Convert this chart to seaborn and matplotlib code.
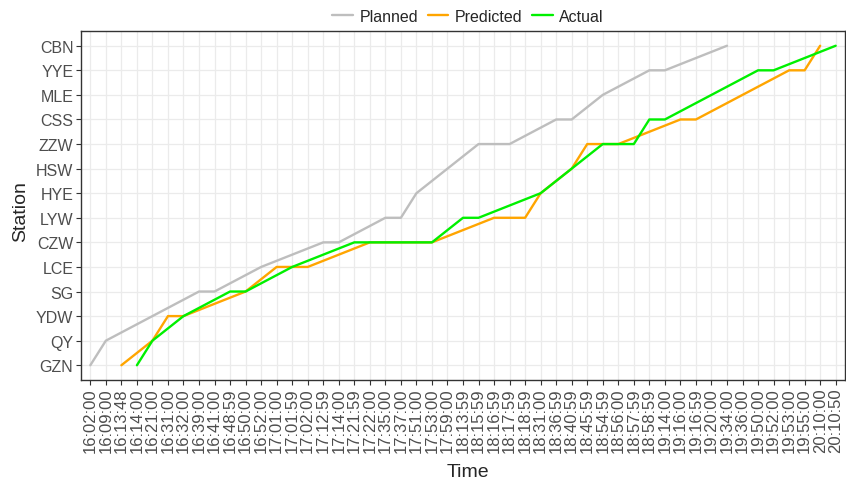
import matplotlib
matplotlib.use("Agg")
import matplotlib.pyplot as plt
import seaborn as sns
import pandas as pd

# Station order along the line (bottom to top)
stations = ["GZN", "QY", "YDW", "SG", "LCE", "CZW", "LYW", "HYE",
            "HSW", "ZZW", "CSS", "MLE", "YYE", "CBN"]

# All recorded timestamps, used as ordered categories on the time axis
time_labels = [
    "16:02:00", "16:09:00", "16:13:48", "16:14:00", "16:21:00", "16:31:00",
    "16:32:00", "16:39:00", "16:41:00", "16:48:59", "16:50:00", "16:52:00",
    "17:01:00", "17:01:59", "17:02:00", "17:12:59", "17:14:00", "17:21:59",
    "17:22:00", "17:35:00", "17:37:00", "17:51:00", "17:53:00", "17:59:00",
    "18:13:59", "18:15:59", "18:16:59", "18:17:59", "18:18:59", "18:31:00",
    "18:36:59", "18:40:59", "18:45:59", "18:54:59", "18:56:00", "18:57:59",
    "18:58:59", "19:14:00", "19:16:00", "19:16:59", "19:20:00", "19:34:00",
    "19:36:00", "19:50:00", "19:52:00", "19:53:00", "19:55:00", "20:10:00",
    "20:10:50",
]

planned_time = ["16:02:00", "16:09:00", "16:21:00", "16:39:00", "16:41:00",
                "16:52:00", "17:12:59", "17:14:00", "17:35:00", "17:37:00",
                "17:51:00", "17:59:00", "18:15:59", "18:17:59", "18:36:59",
                "18:40:59", "18:54:59", "18:58:59", "19:14:00", "19:34:00"]
planned_station = ["GZN", "QY", "YDW", "SG", "SG", "LCE", "CZW", "CZW",
                   "LYW", "LYW", "HYE", "HSW", "ZZW", "ZZW", "CSS", "CSS",
                   "MLE", "YYE", "YYE", "CBN"]

predicted_time = ["16:13:48", "16:21:00", "16:31:00", "16:32:00", "16:50:00",
                  "17:01:00", "17:02:00", "17:22:00", "17:53:00", "18:16:59",
                  "18:18:59", "18:31:00", "18:40:59", "18:45:59", "18:56:00",
                  "19:16:00", "19:16:59", "19:36:00", "19:53:00", "19:55:00",
                  "20:10:00"]
predicted_station = ["GZN", "QY", "YDW", "YDW", "SG", "LCE", "LCE", "CZW",
                     "CZW", "LYW", "LYW", "HYE", "HSW", "ZZW", "ZZW", "CSS",
                     "CSS", "MLE", "YYE", "YYE", "CBN"]

actual_time = ["16:14:00", "16:21:00", "16:32:00", "16:48:59", "16:50:00",
               "17:01:59", "17:21:59", "17:53:00", "18:13:59", "18:15:59",
               "18:31:00", "18:40:59", "18:54:59", "18:57:59", "18:58:59",
               "19:14:00", "19:20:00", "19:50:00", "19:52:00", "20:10:50"]
actual_station = ["GZN", "QY", "YDW", "SG", "SG", "LCE", "CZW", "CZW",
                  "LYW", "LYW", "HYE", "HSW", "ZZW", "ZZW", "CSS", "CSS",
                  "MLE", "YYE", "YYE", "CBN"]

series_names = ["Planned", "Predicted", "Actual"]
series_colors = ["#BEBEBE", "#FFA500", "#00F000"]

frames = []
for name, t, s in [("Planned", planned_time, planned_station),
                   ("Predicted", predicted_time, predicted_station),
                   ("Actual", actual_time, actual_station)]:
    frames.append(pd.DataFrame({"Time": t, "Station": s, "Type": name}))
df = pd.concat(frames, ignore_index=True)
df["t_code"] = pd.Categorical(df["Time"], categories=time_labels).codes
df["s_code"] = pd.Categorical(df["Station"], categories=stations).codes

sns.set_style("white")
plt.rcParams["font.family"] = ["Liberation Sans", "DejaVu Sans"]

W, H = 846, 485
fig = plt.figure(figsize=(W / 100, H / 100), dpi=100)
left, right, top, bottom = 81, 845, 32, 381
ax = fig.add_axes([left / W, 1 - bottom / H, (right - left) / W, (bottom - top) / H])

sns.lineplot(data=df, x="t_code", y="s_code", hue="Type",
             hue_order=series_names, palette=series_colors,
             estimator=None, sort=False, linewidth=1.7, ax=ax, legend=True)

ax.set_xlim(-0.6, len(time_labels) - 0.4)
ax.set_ylim(-0.6, len(stations) - 0.4)
ax.set_xticks(range(len(time_labels)))
ax.set_xticklabels(time_labels, rotation=90, fontsize=12, color="#4D4D4D")
ax.set_yticks(range(len(stations)))
ax.set_yticklabels(stations, fontsize=11.5, color="#4D4D4D")

ax.grid(True, color="#EBEBEB", linewidth=0.9)
ax.set_axisbelow(True)
for sp in ax.spines.values():
    sp.set_color("#333333")
    sp.set_linewidth(1.0)
ax.tick_params(axis="both", direction="out", length=3.5, width=0.8,
               color="#333333", pad=2, bottom=True, left=True)

ax.set_xlabel("Time", fontsize=14)
ax.set_ylabel("Station", fontsize=14)
ax.xaxis.set_label_coords((468 - left) / (right - left), (bottom - 473) / (bottom - top))
ax.xaxis.label.set_verticalalignment("center")
ax.yaxis.set_label_coords((21 - left) / (right - left), (bottom - 212) / (bottom - top))
ax.yaxis.label.set_verticalalignment("center")

handles, labels = ax.get_legend_handles_labels()
ax.get_legend().remove()
fig.legend(handles, labels, loc="center", bbox_to_anchor=(468 / W, 1 - 17 / H),
           ncol=3, frameon=False, fontsize=11.5, handlelength=1.3,
           handletextpad=0.4, columnspacing=0.6)

fig.savefig("out.png", dpi=100)
